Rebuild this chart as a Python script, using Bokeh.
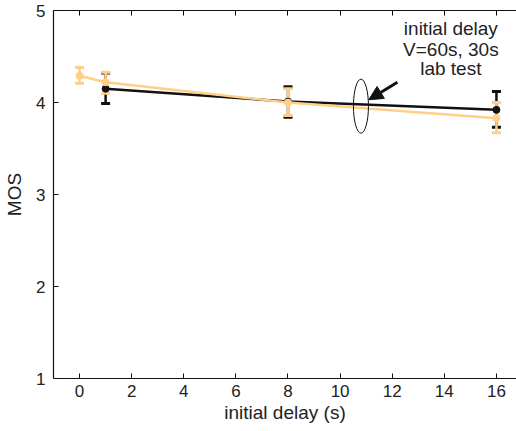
from bokeh.plotting import figure
from bokeh.models import LinearAxis, Range1d, Whisker, ColumnDataSource, Arrow, NormalHead, FixedTicker
from bokeh.embed import file_html
from bokeh.resources import INLINE
from bokeh.core.properties import value

# data
x_black = [1, 8, 16]
mos_black = [4.15, 4.01, 3.92]
lo_black = [3.99, 3.84, 3.73]
hi_black = [4.32, 4.17, 4.12]

x_orange = [0, 1, 8, 16]
mos_orange = [4.29, 4.22, 4.00, 3.83]
lo_orange = [4.21, 4.10, 3.86, 3.67]
hi_orange = [4.38, 4.33, 4.15, 4.00]

x_ticks = [0, 2, 4, 6, 8, 10, 12, 14, 16]
y_ticks = [1, 2, 3, 4, 5]

note_lines = ["initial delay", "V=60s, 30s", "lab test"]
note_x = 14.25
note_y = [4.80, 4.58, 4.37]
ellipse_xy = (10.8, 3.96)
arrow_from = (12.2, 4.22)
arrow_to = (11.1, 4.03)

FONT = "Liberation Sans"
BLACK = "#111111"
ORANGE = "#FFCF8A"

p = figure(width=516, height=431, output_backend="svg", toolbar_location=None,
           x_range=Range1d(-1.0, 16.77), y_range=Range1d(1, 5),
           min_border_left=53, min_border_right=0, min_border_top=10, min_border_bottom=53)
p.outline_line_color = None
p.grid.visible = False
p.background_fill_color = "white"
p.border_fill_color = "white"

for ax in [p.xaxis[0], p.yaxis[0]]:
    ax.major_tick_in = 5
    ax.major_tick_out = 0
    ax.minor_tick_line_color = None
    ax.axis_line_color = BLACK
    ax.axis_line_width = 1.2
    ax.major_tick_line_color = BLACK
    ax.major_label_text_font = FONT
    ax.major_label_text_font_size = "17px"
    ax.major_label_text_color = "#222222"
    ax.axis_label_text_font = FONT
    ax.axis_label_text_font_size = "19px"
    ax.axis_label_text_font_style = "normal"
    ax.axis_label_text_color = "#222222"

p.xaxis[0].ticker = FixedTicker(ticks=x_ticks)
p.yaxis[0].ticker = FixedTicker(ticks=y_ticks)
p.xaxis[0].axis_label = "initial delay (s)"
p.yaxis[0].axis_label = "MOS"
p.xaxis[0].major_label_standoff = 6
p.yaxis[0].major_label_standoff = 8
p.xaxis[0].axis_label_standoff = 2
p.yaxis[0].axis_label_standoff = 8

top = LinearAxis(ticker=FixedTicker(ticks=x_ticks))
top.major_tick_in = 5
top.major_tick_out = 0
top.minor_tick_line_color = None
top.axis_line_color = BLACK
top.axis_line_width = 1.2
top.major_label_text_font_size = "0px"
top.major_label_text_alpha = 0
top.major_label_standoff = 0
p.add_layout(top, "above")

sb = ColumnDataSource(dict(x=x_black, y=mos_black, lo=lo_black, hi=hi_black))
so = ColumnDataSource(dict(x=x_orange, y=mos_orange, lo=lo_orange, hi=hi_orange))

wb = Whisker(source=sb, base="x", lower="lo", upper="hi", line_color=BLACK, line_width=2.5)
wb.upper_head.size = 9; wb.lower_head.size = 9
wb.upper_head.line_color = BLACK; wb.lower_head.line_color = BLACK
wb.upper_head.line_width = 3; wb.lower_head.line_width = 3
p.add_layout(wb)
p.line("x", "y", source=sb, line_color=BLACK, line_width=2.5)
p.scatter("x", "y", source=sb, size=7, color=BLACK)

wo = Whisker(source=so, base="x", lower="lo", upper="hi", line_color=ORANGE, line_width=2.5)
wo.upper_head.size = 9; wo.lower_head.size = 9
wo.upper_head.line_color = ORANGE; wo.lower_head.line_color = ORANGE
wo.upper_head.line_width = 3; wo.lower_head.line_width = 3
p.add_layout(wo)
p.line("x", "y", source=so, line_color=ORANGE, line_width=2.5)
p.scatter("x", "y", source=so, size=7, color=ORANGE)

p.text(x=[note_x] * 3, y=note_y, text=note_lines, text_align="center", text_baseline="middle",
       text_font=value(FONT), text_font_size="19px", text_color="#222222")

p.ellipse(x=[ellipse_xy[0]], y=[ellipse_xy[1]], width=15, height=54,
          width_units="screen", height_units="screen",
          fill_color=None, line_color=BLACK, line_width=1)

p.add_layout(Arrow(end=NormalHead(size=14, fill_color=BLACK, line_color=BLACK),
                   x_start=arrow_from[0], y_start=arrow_from[1],
                   x_end=arrow_to[0], y_end=arrow_to[1],
                   line_color=BLACK, line_width=3))

open("out.html", "w").write(file_html(p, INLINE))
